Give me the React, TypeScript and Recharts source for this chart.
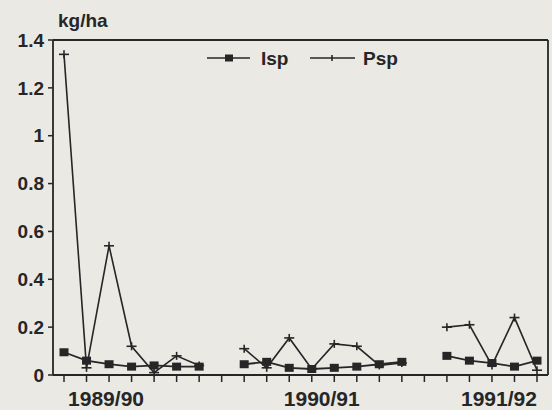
import React from "react"
import {
  LineChart,
  Line,
  XAxis,
  YAxis,
  ReferenceLine,
} from "recharts"

// sampling slots per season (gaps between seasons are empty slots)
const slots = [
  "89-1", "89-2", "89-3", "89-4", "89-5", "89-6", "89-7", "gap1",
  "90-1", "90-2", "90-3", "90-4", "90-5", "90-6", "90-7", "90-8", "gap2",
  "91-1", "91-2", "91-3", "91-4", "91-5",
]

const isp = [
  0.095, 0.06, 0.045, 0.035, 0.04, 0.035, 0.035, null,
  0.045, 0.055, 0.03, 0.025, 0.03, 0.035, 0.045, 0.055, null,
  0.08, 0.06, 0.05, 0.035, 0.06,
]

const psp = [
  1.34, 0.03, 0.54, 0.12, 0.01, 0.08, 0.04, null,
  0.11, 0.03, 0.155, 0.025, 0.13, 0.12, 0.04, 0.05, null,
  0.2, 0.21, 0.04, 0.24, 0.02,
]

const seasonLabels = ["1989/90", "1990/91", "1991/92"]
const yTicks = [0, 0.2, 0.4, 0.6, 0.8, 1, 1.2, 1.4]

const data = slots.map((slot, i) => ({ slot, isp: isp[i], psp: psp[i] }))

const INK = "#262626"
const BG = "#eae9e4"
const FONT = "'Liberation Sans', Arial, Helvetica, sans-serif"

// where each season label sits (slot index, nudge)
const labelSpots: Record<number, [number, number]> = {
  2: [0, -3],
  11: [1, 10],
  19: [2, 7],
}

if (typeof document !== "undefined") {
  document.body.style.margin = "0"
}

// eslint-disable-next-line @typescript-eslint/no-explicit-any
function SeasonTick({ x, y, index }: any) {
  const spot = labelSpots[index]
  if (!spot) return null
  return (
    <text
      x={x + spot[1]}
      y={y + 22}
      textAnchor="middle"
      fontFamily={FONT}
      fontWeight="bold"
      fontSize={21}
      fill={INK}
    >
      {seasonLabels[spot[0]]}
    </text>
  )
}

// eslint-disable-next-line @typescript-eslint/no-explicit-any
function SquareDot({ cx, cy, value }: any) {
  if (value == null || cx == null) return null
  return <rect x={cx - 4.5} y={cy - 4} width={9} height={8} fill={INK} />
}

// eslint-disable-next-line @typescript-eslint/no-explicit-any
function PlusDot({ cx, cy, value }: any) {
  if (value == null || cx == null) return null
  return (
    <g stroke={INK} strokeWidth={1.6}>
      <line x1={cx - 5} y1={cy} x2={cx + 5} y2={cy} />
      <line x1={cx} y1={cy - 4} x2={cx} y2={cy + 4} />
    </g>
  )
}

function LegendBox() {
  return (
    <svg
      width={552}
      height={410}
      style={{ position: "absolute", left: 0, top: 0, pointerEvents: "none" }}
    >
      <text x={58} y={27} fontFamily={FONT} fontWeight="bold" fontSize={19} fill={INK}>
        kg/ha
      </text>
      {/* right edge of the frame */}
      <line x1={548} y1={40} x2={548} y2={375} stroke={INK} strokeWidth={1.8} />
      <g stroke={INK} strokeWidth={1.6}>
        <line x1={207} y1={58} x2={250} y2={58} />
        <line x1={310} y1={58} x2={355} y2={58} />
        <line x1={332} y1={55} x2={332} y2={61} />
      </g>
      <rect x={225} y={54.5} width={8} height={7} fill={INK} />
      <text x={261} y={65} fontFamily={FONT} fontWeight="bold" fontSize={19} fill={INK}>
        Isp
      </text>
      <text x={363} y={65} fontFamily={FONT} fontWeight="bold" fontSize={19} fill={INK}>
        Psp
      </text>
    </svg>
  )
}

export default function App() {
  return (
    <div style={{ position: "relative", width: 552, height: 410, background: BG }}>
      <LineChart
        width={552}
        height={410}
        data={data}
        margin={{ top: 40, right: 4, left: 0, bottom: 0 }}
      >
        <XAxis
          dataKey="slot"
          type="category"
          height={35}
          interval={0}
          padding={{ left: 11, right: 11 }}
          tick={<SeasonTick />}
          tickSize={7}
          tickLine={{ stroke: INK, strokeWidth: 1.5 }}
          axisLine={{ stroke: INK, strokeWidth: 1.8 }}
        />
        <YAxis
          domain={[0, 1.4]}
          ticks={yTicks}
          width={53}
          tickSize={5}
          tickMargin={4}
          tick={{ fontFamily: FONT, fontWeight: "bold", fontSize: 19, fill: INK }}
          tickLine={{ stroke: INK, strokeWidth: 1.5 }}
          axisLine={{ stroke: INK, strokeWidth: 1.8 }}
        />
        <ReferenceLine y={1.4} stroke={INK} strokeWidth={1.8} />
        <Line
          dataKey="psp"
          name="Psp"
          stroke={INK}
          strokeWidth={1.6}
          dot={<PlusDot />}
          activeDot={false}
          connectNulls={false}
          isAnimationActive={false}
        />
        <Line
          dataKey="isp"
          name="Isp"
          stroke={INK}
          strokeWidth={1.8}
          dot={<SquareDot />}
          activeDot={false}
          connectNulls={false}
          isAnimationActive={false}
        />
      </LineChart>
      <LegendBox />
    </div>
  )
}
